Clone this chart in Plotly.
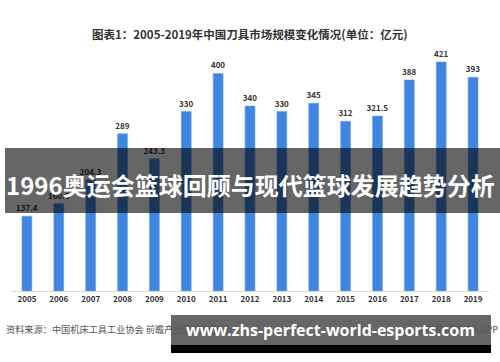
import plotly.graph_objects as go

years = ["2005", "2006", "2007", "2008", "2009", "2010", "2011", "2012",
         "2013", "2014", "2015", "2016", "2017", "2018", "2019"]
values = [137.4, 160.6, 204.3, 289, 243.3, 330, 400, 340, 330, 345, 312, 321.5, 388, 421, 393]
value_labels = ["137.4", "160.6", "204.3", "289", "243.3", "330", "400", "340",
                "330", "345", "312", "321.5", "388", "421", "393"]

title_text = "图表1：2005-2019年中国刀具市场规模变化情况(单位：亿元)"
banner_text = "1996奥运会篮球回顾与现代篮球发展趋势分析"
source_text = "资料来源：中国机床工具工业协会 前瞻产业研究院整理"
credit_text = "@前瞻经济学人APP"
url_text = "www.zhs-perfect-world-esports.com"

W, H = 500, 362
ML, MR, MT, MB = 11, 11, 50, 71
PW = W - ML - MR
PH = H - MT - MB


def px(x):
    return (x - ML) / PW


def py(y):
    return (H - MB - y) / PH


FONT = "Noto Sans CJK SC, Noto Sans, sans-serif"

fig = go.Figure()
fig.add_trace(go.Bar(
    x=years, y=values, text=value_labels, textposition="outside",
    constraintext="none",
    textfont=dict(size=8, color="#333333", family=FONT, weight="bold"),
    marker=dict(color="#3f86e0", line=dict(color="#6aa3ea", width=0.6)),
    cliponaxis=False,
))

fig.update_layout(
    width=W, height=H,
    margin=dict(l=ML, r=MR, t=MT, b=MB),
    plot_bgcolor="white", paper_bgcolor="white",
    bargap=0.69,
    showlegend=False,
    xaxis=dict(
        type="category", showgrid=False, ticks="", showline=True,
        linecolor="#d9d9d9", linewidth=1,
        tickfont=dict(size=8, color="#333333", family=FONT, weight="bold"),
    ),
    yaxis=dict(range=[0, PH / ((291 - 62) / 421)], visible=False),
    font=dict(family=FONT),
)

# title
fig.add_annotation(x=0.5, y=py(34), xref="paper", yref="paper", text=title_text,
                   showarrow=False, xanchor="center", yanchor="middle",
                   font=dict(size=11.5, color="#333333", family=FONT, weight="bold"))

# source texts
fig.add_annotation(x=px(4), y=py(329), xref="paper", yref="paper", text=source_text,
                   showarrow=False, xanchor="left", yanchor="middle",
                   font=dict(size=9.2, color="#555555", family=FONT))
fig.add_annotation(x=px(500), y=py(329), xref="paper", yref="paper", text=credit_text,
                   showarrow=False, xanchor="right", yanchor="middle",
                   font=dict(size=9.2, color="#555555", family=FONT))

# middle banner
fig.add_shape(type="rect", xref="paper", yref="paper",
              x0=px(5), x1=px(500), y0=py(213), y1=py(148),
              fillcolor="rgba(0,0,0,0.6)", line=dict(width=0), layer="above")
fig.add_annotation(x=px(250), y=py(184), xref="paper", yref="paper", text=banner_text,
                   showarrow=False, xanchor="center", yanchor="middle",
                   font=dict(size=24, color="white", family=FONT, weight="bold"))

# bottom banner
fig.add_shape(type="rect", xref="paper", yref="paper",
              x0=px(171), x1=px(491), y0=py(345), y1=py(315),
              fillcolor="rgba(0,0,0,0.6)", line=dict(width=0), layer="above")
fig.add_shape(type="rect", xref="paper", yref="paper",
              x0=px(171), x1=px(491), y0=py(353), y1=py(345),
              fillcolor="black", line=dict(width=0), layer="above")
fig.add_annotation(x=px(330), y=py(330), xref="paper", yref="paper", text=url_text,
                   showarrow=False, xanchor="center", yanchor="middle",
                   font=dict(size=16, color="white", family="Open Sans, sans-serif", weight="bold"))

fig.write_html("out.html")
